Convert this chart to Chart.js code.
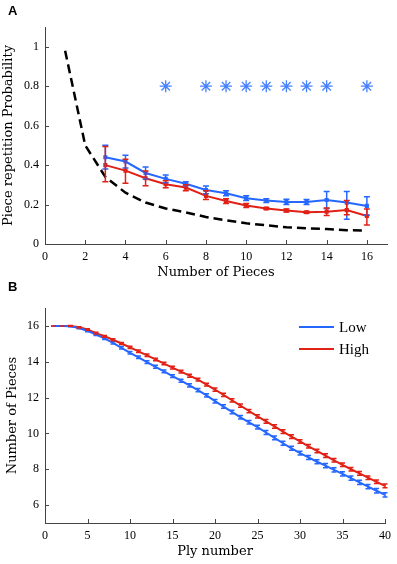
<!DOCTYPE html>
<html>
<head>
<meta charset="utf-8">
<script src="https://cdn.jsdelivr.net/npm/chart.js@4.4.1/dist/chart.umd.min.js"></script>
<style>
  body { margin: 0; background: #fff; width: 397px; height: 564px; position: relative; overflow: hidden; }
  canvas { position: absolute; left: 0; }
  .panel { position: absolute; left: 8px; font: bold 13px Arial, "Liberation Sans", sans-serif; color: #000; }
</style>
</head>
<body>
<canvas id="chartA" width="397" height="290" style="top:0"></canvas>
<canvas id="chartB" width="397" height="274" style="top:290px"></canvas>
<div class="panel" style="top:3px">A</div>
<div class="panel" style="top:279px">B</div>
<script>
// ---- panel A data ----
var piecesDashed = [1, 2, 3, 4, 5, 6, 7, 8, 9, 10, 11, 12, 13, 14, 15, 16];
var chanceProb = [0.98, 0.50, 0.34, 0.26, 0.21, 0.18, 0.16, 0.137, 0.12, 0.105, 0.095, 0.085, 0.08, 0.076, 0.07, 0.068];
var pieces = [3, 4, 5, 6, 7, 8, 9, 10, 11, 12, 13, 14, 15, 16];
var lowProb = [0.44, 0.418, 0.36, 0.33, 0.305, 0.274, 0.257, 0.232, 0.22, 0.213, 0.213, 0.223, 0.21, 0.193];
var lowProbUp = [0.50, 0.45, 0.39, 0.35, 0.315, 0.294, 0.27, 0.245, 0.23, 0.227, 0.225, 0.266, 0.266, 0.24];
var lowProbDn = [0.38, 0.385, 0.33, 0.31, 0.295, 0.255, 0.245, 0.22, 0.21, 0.20, 0.20, 0.18, 0.125, 0.146];
var highProb = [0.40, 0.372, 0.333, 0.303, 0.286, 0.244, 0.218, 0.195, 0.18, 0.17, 0.161, 0.164, 0.172, 0.142];
var highProbUp = [0.494, 0.43, 0.37, 0.32, 0.30, 0.27, 0.23, 0.205, 0.185, 0.178, 0.166, 0.183, 0.22, 0.178];
var highProbDn = [0.316, 0.308, 0.295, 0.285, 0.27, 0.225, 0.205, 0.185, 0.175, 0.162, 0.156, 0.144, 0.148, 0.096];
var signifPieces = [6, 8, 9, 10, 11, 12, 13, 14, 16];
var signifLevel = [0.8, 0.8, 0.8, 0.8, 0.8, 0.8, 0.8, 0.8, 0.8];
var aXTicks = [0, 2, 4, 6, 8, 10, 12, 14, 16];
var aYTicks = [0, 0.2, 0.4, 0.6, 0.8, 1];

// ---- panel B data ----
var ply = [1, 2, 3, 4, 5, 6, 7, 8, 9, 10, 11, 12, 13, 14, 15, 16, 17, 18, 19, 20,
           21, 22, 23, 24, 25, 26, 27, 28, 29, 30, 31, 32, 33, 34, 35, 36, 37, 38, 39, 40];
var lowPieces = [16, 16, 15.98, 15.88, 15.72, 15.52, 15.3, 15.05, 14.78, 14.5,
                 14.25, 13.98, 13.72, 13.46, 13.2, 12.94, 12.68, 12.42, 12.12, 11.8,
                 11.5, 11.2, 10.9, 10.62, 10.35, 10.05, 9.75, 9.45, 9.17, 8.9,
                 8.66, 8.42, 8.2, 7.97, 7.74, 7.5, 7.27, 7.03, 6.8, 6.57];
var highPieces = [16, 16, 16, 15.92, 15.8, 15.6, 15.42, 15.23, 15.02, 14.8,
                  14.58, 14.36, 14.13, 13.9, 13.67, 13.45, 13.22, 13.0, 12.72, 12.45,
                  12.15, 11.85, 11.55, 11.25, 10.95, 10.67, 10.39, 10.1, 9.82, 9.55,
                  9.28, 9.02, 8.76, 8.5, 8.25, 8.0, 7.77, 7.53, 7.3, 7.07];
var lowErr = [0, 0, 0.03, 0.04, 0.05, 0.05, 0.06, 0.06, 0.07, 0.07,
              0.07, 0.08, 0.08, 0.08, 0.08, 0.09, 0.09, 0.09, 0.09, 0.1,
              0.1, 0.1, 0.1, 0.1, 0.1, 0.11, 0.11, 0.11, 0.11, 0.11,
              0.11, 0.11, 0.12, 0.12, 0.12, 0.12, 0.12, 0.12, 0.12, 0.12];
var highErr = [0, 0, 0.02, 0.04, 0.04, 0.05, 0.05, 0.06, 0.06, 0.06,
               0.07, 0.07, 0.07, 0.07, 0.08, 0.08, 0.08, 0.08, 0.08, 0.09,
               0.09, 0.09, 0.09, 0.09, 0.09, 0.1, 0.1, 0.1, 0.1, 0.1,
               0.1, 0.1, 0.1, 0.1, 0.1, 0.1, 0.1, 0.1, 0.1, 0.1];
var bXTicks = [0, 5, 10, 15, 20, 25, 30, 35, 40];
var bYTicks = [6, 8, 10, 12, 14, 16];

var blue = 'rgb(38, 104, 255)';
var red = 'rgb(225, 32, 22)';
var axisColor = '#444';
var serif = '"Liberation Serif", "Times New Roman", serif';
var titleSerif = '"DejaVu Serif", serif';

function pts(xs, ys) {
  return xs.map(function (x, i) { return { x: x, y: ys[i] }; });
}

// error bars drawn through the chart's y scale
var errorBars = {
  id: 'errorBars',
  afterDatasetsDraw: function (chart) {
    var c = chart.ctx, y = chart.scales.y;
    chart.data.datasets.forEach(function (ds, i) {
      if (!ds.errUp) return;
      var meta = chart.getDatasetMeta(i);
      var cap = ds.errCap;
      c.save();
      c.strokeStyle = ds.borderColor;
      c.lineWidth = ds.errWidth;
      meta.data.forEach(function (pt, j) {
        var top = y.getPixelForValue(ds.errUp[j]);
        var bot = y.getPixelForValue(ds.errDn[j]);
        c.beginPath();
        c.moveTo(pt.x, top); c.lineTo(pt.x, bot);
        c.moveTo(pt.x - cap, top); c.lineTo(pt.x + cap, top);
        c.moveTo(pt.x - cap, bot); c.lineTo(pt.x + cap, bot);
        c.stroke();
      });
      c.restore();
    });
  }
};

// matlab style ticks pointing into the plot
var inwardTicks = {
  id: 'inwardTicks',
  afterDraw: function (chart) {
    var c = chart.ctx, x = chart.scales.x, y = chart.scales.y;
    c.save();
    c.strokeStyle = axisColor;
    c.lineWidth = 1;
    c.beginPath();
    x.ticks.forEach(function (t) {
      var px = Math.round(x.getPixelForValue(t.value)) + 0.5;
      c.moveTo(px, y.bottom); c.lineTo(px, y.bottom - 4);
    });
    y.ticks.forEach(function (t) {
      var py = Math.round(y.getPixelForValue(t.value)) + 0.5;
      c.moveTo(x.left, py); c.lineTo(x.left + 4, py);
    });
    c.stroke();
    c.restore();
  }
};

var lineLegend = {
  id: 'lineLegend',
  afterDraw: function (chart) {
    if (!chart.options.plugins.lineLegend.show) return;
    var c = chart.ctx, a = chart.chartArea;
    var items = chart.data.datasets;
    c.save();
    c.font = '15px ' + serif;
    c.textBaseline = 'middle';
    c.fillStyle = '#000';
    items.forEach(function (ds, i) {
      var yy = a.top + 19 + i * 22;
      c.strokeStyle = ds.borderColor;
      c.lineWidth = 2;
      c.beginPath();
      c.moveTo(a.right - 86, yy); c.lineTo(a.right - 51, yy);
      c.stroke();
      c.fillText(ds.label, a.right - 46, yy + 1);
    });
    c.restore();
  }
};

function axisOpts(min, max, tickVals, title, fit, titlePad, labelPad) {
  return {
    type: 'linear',
    min: min,
    max: max,
    grid: { display: false, drawTicks: false },
    border: { display: true, color: axisColor, width: 1 },
    afterBuildTicks: function (scale) {
      scale.ticks = tickVals.map(function (v) { return { value: v }; });
    },
    afterFit: fit,
    ticks: {
      color: '#000',
      padding: labelPad,
      font: { family: serif, size: 12 },
      callback: function (v) { return String(v); },
      maxRotation: 0,
      autoSkip: false
    },
    title: {
      display: true,
      text: title,
      color: '#000',
      font: { family: titleSerif, size: 13 },
      padding: titlePad
    }
  };
}

var configA = {
  type: 'line',
  data: {
    datasets: [{
      label: 'chance',
      data: pts(piecesDashed, chanceProb),
      borderColor: '#000',
      borderWidth: 2.5,
      borderDash: [9, 5],
      pointRadius: 0,
      fill: false
    }, {
      label: 'Low',
      data: pts(pieces, lowProb),
      borderColor: blue,
      backgroundColor: blue,
      borderWidth: 2,
      pointStyle: 'rect',
      pointRadius: 1.5,
      errUp: lowProbUp,
      errDn: lowProbDn,
      errCap: 3,
      errWidth: 1.5,
      fill: false
    }, {
      label: 'High',
      data: pts(pieces, highProb),
      borderColor: red,
      backgroundColor: red,
      borderWidth: 2,
      pointStyle: 'rect',
      pointRadius: 1.5,
      errUp: highProbUp,
      errDn: highProbDn,
      errCap: 3,
      errWidth: 1.5,
      fill: false
    }, {
      label: 'significant',
      data: pts(signifPieces, signifLevel),
      showLine: false,
      pointStyle: 'star',
      pointRadius: 6,
      borderColor: 'rgb(70, 130, 255)',
      borderWidth: 1.3
    }]
  },
  options: {
    responsive: false,
    animation: false,
    layout: { padding: { top: 27, right: 10, left: 0, bottom: 0 } },
    plugins: { legend: { display: false }, tooltip: { enabled: false }, lineLegend: { show: false } },
    scales: {
      x: axisOpts(0, 17, aXTicks, 'Number of Pieces', function (s) { s.height = 46; }, { top: 0, bottom: 10 }, 6),
      y: axisOpts(0, 1.1, aYTicks, 'Piece repetition Probability', function (s) { s.width = 45; }, { top: 1, bottom: 0 }, 6)
    }
  },
  plugins: [errorBars, inwardTicks, lineLegend]
};

var configB = {
  type: 'line',
  data: {
    datasets: [{
      label: 'Low',
      data: pts(ply, lowPieces),
      borderColor: blue,
      borderWidth: 2,
      pointRadius: 0,
      errUp: lowPieces.map(function (v, i) { return v + lowErr[i]; }),
      errDn: lowPieces.map(function (v, i) { return v - lowErr[i]; }),
      errCap: 2.5,
      errWidth: 1.5,
      fill: false
    }, {
      label: 'High',
      data: pts(ply, highPieces),
      borderColor: red,
      borderWidth: 2,
      pointRadius: 0,
      errUp: highPieces.map(function (v, i) { return v + highErr[i]; }),
      errDn: highPieces.map(function (v, i) { return v - highErr[i]; }),
      errCap: 2.5,
      errWidth: 1.5,
      fill: false
    }]
  },
  options: {
    responsive: false,
    animation: false,
    layout: { padding: { top: 18, right: 10, left: 0, bottom: 0 } },
    plugins: { legend: { display: false }, tooltip: { enabled: false }, lineLegend: { show: true } },
    scales: {
      x: axisOpts(0, 40, bXTicks, 'Ply number', function (s) { s.height = 41; }, { top: 0, bottom: 5 }, 6),
      y: axisOpts(5, 17, bYTicks, 'Number of Pieces', function (s) { s.width = 45; }, { top: 5, bottom: 0 }, 6)
    }
  },
  plugins: [errorBars, inwardTicks, lineLegend]
};

var chartA = new Chart(document.getElementById('chartA').getContext('2d'), configA);
var chartB = new Chart(document.getElementById('chartB').getContext('2d'), configB);
</script>
</body>
</html>
